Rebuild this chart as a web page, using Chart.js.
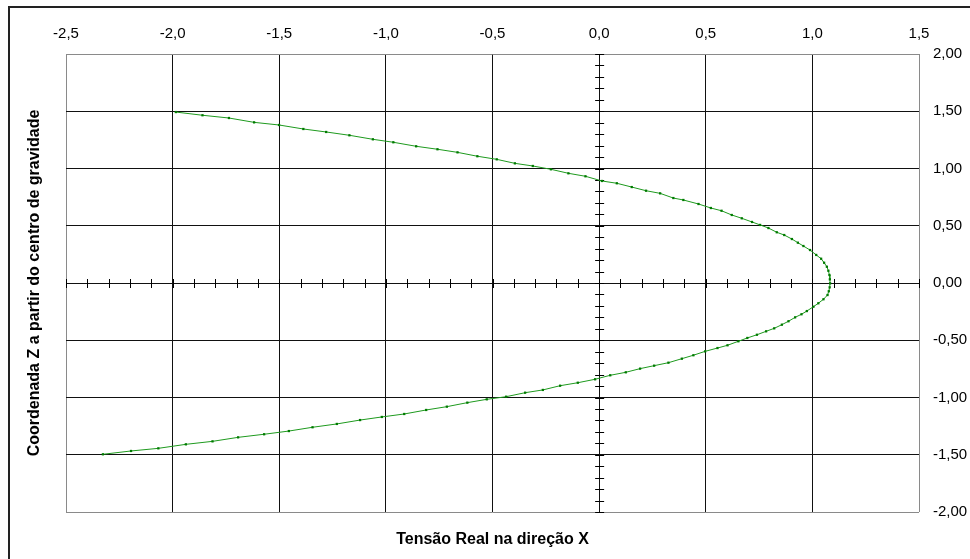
<!DOCTYPE html>
<html>
<head>
<meta charset="utf-8">
<script src="https://cdn.jsdelivr.net/npm/chart.js@4"></script>
<style>
    html, body { margin: 0; padding: 0; background: #fff; }
    #wrap { position: relative; width: 970px; height: 559px; }
    #frame {
        position: absolute; left: 8px; top: 6px; width: 980px; height: 570px;
        border-top: 2px solid #222; border-left: 2px solid #222;
    }
    #grafico { position: absolute; left: 0; top: 0; }
</style>
</head>
<body>
<div id="wrap">
    <div id="frame"></div>
    <canvas id="grafico" width="970" height="559"></canvas>
</div>
<script>
// valores: tensao real em X e coordenada Z
const tensaoX = [
    -1.985, -1.860, -1.736, -1.618, -1.501, -1.387, -1.280, -1.171, -1.061, -0.965,
    -0.858, -0.758, -0.664, -0.571, -0.480, -0.395, -0.311, -0.226, -0.144, -0.064,
    0.013, 0.083, 0.153, 0.220, 0.286, 0.348, 0.395, 0.466, 0.524, 0.574,
    0.622, 0.669, 0.717, 0.755, 0.794, 0.833, 0.868, 0.904, 0.932, 0.958,
    0.989, 1.018, 1.041, 1.055, 1.068, 1.075, 1.080, 1.082, 1.083, 1.081,
    1.077, 1.071, 1.052, 1.028, 1.005, 0.974, 0.949, 0.919, 0.888, 0.857,
    0.821, 0.783, 0.740, 0.695, 0.653, 0.602, 0.555, 0.497, 0.442, 0.388,
    0.325, 0.258, 0.192, 0.125, 0.052, -0.019, -0.100, -0.183, -0.264, -0.347,
    -0.436, -0.527, -0.618, -0.714, -0.811, -0.914, -1.019, -1.121, -1.230, -1.344,
    -1.455, -1.571, -1.693, -1.813, -1.938, -2.067, -2.195, -2.327
];
const coordZ = [
    1.493, 1.465, 1.441, 1.403, 1.380, 1.345, 1.319, 1.290, 1.255, 1.229,
    1.194, 1.168, 1.141, 1.107, 1.080, 1.045, 1.022, 0.993, 0.958, 0.932,
    0.891, 0.871, 0.838, 0.806, 0.783, 0.742, 0.725, 0.690, 0.655, 0.631,
    0.594, 0.565, 0.533, 0.507, 0.480, 0.443, 0.419, 0.384, 0.352, 0.323,
    0.288, 0.245, 0.212, 0.177, 0.142, 0.107, 0.070, 0.032, -0.003, -0.038,
    -0.072, -0.105, -0.142, -0.177, -0.207, -0.245, -0.273, -0.300, -0.334, -0.364,
    -0.396, -0.422, -0.452, -0.480, -0.509, -0.544, -0.568, -0.597, -0.631, -0.661,
    -0.696, -0.722, -0.748, -0.780, -0.806, -0.841, -0.871, -0.897, -0.934, -0.958,
    -0.993, -1.016, -1.045, -1.080, -1.109, -1.144, -1.170, -1.197, -1.231, -1.260,
    -1.293, -1.321, -1.348, -1.383, -1.409, -1.444, -1.467, -1.496
];

const xMin = -2.5, xMax = 1.5;
const zMin = -2, zMax = 2;

const tituloX = 'Tensão Real na direção X';
const tituloZ = 'Coordenada Z a partir do centro de gravidade';

const fonte = '"Liberation Sans", Arial, sans-serif';

function virgula(v, casas) {
    return v.toFixed(casas).replace('.', ',');
}

function corGrade(ctx, a, b) {
    const v = ctx.tick.value;
    if (Math.abs(v - a) < 1e-9 || Math.abs(v - b) < 1e-9) return '#8a8a8a';
    return '#111';
}

// tracinhos menores (0,1) sobre os eixos que passam pelo zero
const eixosZero = {
    id: 'eixosZero',
    beforeDatasetsDraw(chart) {
        const ctx = chart.ctx;
        const sx = chart.scales.x;
        const sy = chart.scales.y;
        const x0 = sx.getPixelForValue(0);
        const y0 = sy.getPixelForValue(0);
        ctx.save();
        ctx.strokeStyle = '#000';
        ctx.lineWidth = 1;
        ctx.beginPath();
        for (let i = -25; i <= 15; i++) {
            const px = Math.round(sx.getPixelForValue(i / 10)) + 0.5;
            ctx.moveTo(px, y0 - 4);
            ctx.lineTo(px, y0 + 5);
        }
        for (let i = -20; i <= 20; i++) {
            const py = Math.round(sy.getPixelForValue(i / 10)) + 0.5;
            ctx.moveTo(x0 - 4, py);
            ctx.lineTo(x0 + 5, py);
        }
        ctx.stroke();
        ctx.restore();
    }
};

function createChart() {
    const pontos = tensaoX.map((x, i) => ({ x: x, y: coordZ[i] }));
    const config = {
        type: 'scatter',
        data: {
            datasets: [{
                data: pontos,
                showLine: true,
                borderColor: '#1e9a1e',
                borderWidth: 1,
                pointStyle: 'rect',
                pointRadius: 1.6,
                pointBackgroundColor: '#007a00',
                pointBorderColor: '#007a00',
                pointBorderWidth: 0
            }]
        },
        options: {
            responsive: false,
            animation: false,
            layout: { padding: 0 },
            plugins: {
                legend: { display: false },
                tooltip: { enabled: false }
            },
            scales: {
                x: {
                    type: 'linear',
                    position: 'top',
                    min: xMin,
                    max: xMax,
                    afterFit: (s) => { s.height = 54; },
                    ticks: {
                        stepSize: 0.5,
                        autoSkip: false,
                        maxRotation: 0,
                        padding: 11,
                        color: '#000',
                        font: { family: fonte, size: 15 },
                        callback: (v) => virgula(v, 1)
                    },
                    grid: {
                        drawTicks: false,
                        color: (ctx) => corGrade(ctx, xMin, xMax),
                        lineWidth: 1
                    },
                    border: { display: false }
                },
                x2: {
                    type: 'linear',
                    position: 'bottom',
                    min: xMin,
                    max: xMax,
                    afterFit: (s) => { s.height = 47; },
                    ticks: { display: false },
                    grid: { display: false, drawTicks: false },
                    border: { display: false },
                    title: {
                        display: true,
                        text: tituloX,
                        color: '#000',
                        padding: { top: 0, bottom: 10 },
                        font: { family: fonte, size: 16, weight: 'bold' }
                    }
                },
                y: {
                    type: 'linear',
                    position: 'right',
                    min: zMin,
                    max: zMax,
                    afterFit: (s) => { s.width = 51; },
                    ticks: {
                        stepSize: 0.5,
                        autoSkip: false,
                        padding: 14,
                        color: '#000',
                        font: { family: fonte, size: 15 },
                        callback: (v) => virgula(v, 2)
                    },
                    grid: {
                        drawTicks: false,
                        color: (ctx) => corGrade(ctx, zMin, zMax),
                        lineWidth: 1
                    },
                    border: { display: false }
                },
                y2: {
                    type: 'linear',
                    position: 'left',
                    min: zMin,
                    max: zMax,
                    afterFit: (s) => { s.width = 66; },
                    ticks: { display: false },
                    grid: { display: false, drawTicks: false },
                    border: { display: false },
                    title: {
                        display: true,
                        text: tituloZ,
                        color: '#000',
                        padding: { top: 25, bottom: 0 },
                        font: { family: fonte, size: 16, weight: 'bold' }
                    }
                }
            }
        },
        plugins: [eixosZero]
    };
    new Chart(document.getElementById('grafico'), config);
}

createChart();
</script>
</body>
</html>
